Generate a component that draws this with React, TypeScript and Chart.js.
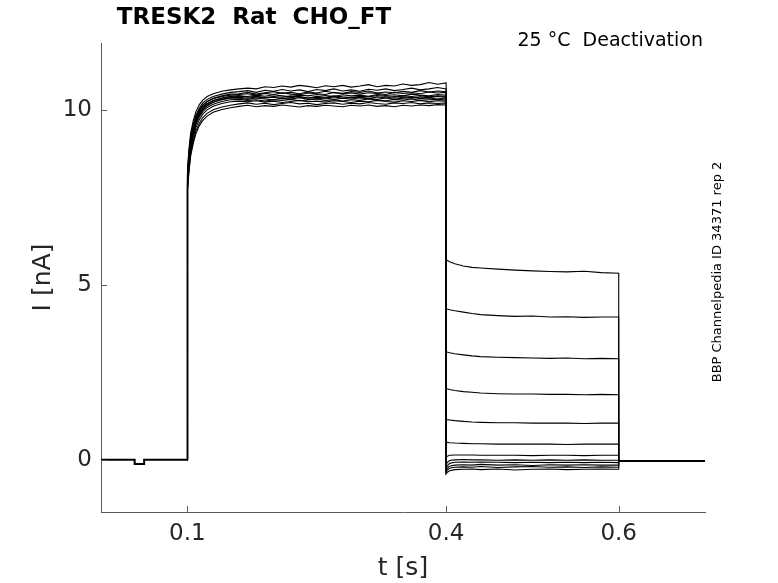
import { useEffect, useRef } from "react"
import { Chart, registerables } from "chart.js"

Chart.register(...registerables)

// time bases (s)
const holdPreTime = [0, 0.039, 0.039, 0.05, 0.05, 0.1]
const holdPreCurrent = [0, 0, -0.12, -0.12, 0, 0]
const holdPostTime = [0.6, 0.65, 0.7]
const holdPostCurrent = [-0.03, -0.03, -0.03]

const riseTime = [0.1, 0.1, 0.1005, 0.102, 0.104, 0.107, 0.11, 0.114, 0.118, 0.123, 0.13, 0.14, 0.15]
const plateauTime = [
  0.16, 0.17, 0.18, 0.19, 0.2, 0.21, 0.22, 0.23, 0.24, 0.25, 0.26, 0.27, 0.28,
  0.29, 0.3, 0.31, 0.32, 0.33, 0.34, 0.35, 0.36, 0.37, 0.38, 0.39, 0.4,
]
const tailTime = [0.4, 0.401, 0.404, 0.41, 0.42, 0.43, 0.44, 0.46, 0.48, 0.5, 0.52, 0.54, 0.56, 0.58, 0.6, 0.6]

// currents (nA), one row per sweep
const riseCurrents = [
  [0, 8.0, 8.3, 8.9, 9.35, 9.7, 9.95, 10.15, 10.28, 10.38, 10.46, 10.53, 10.57],
  [0, 7.9, 8.2, 8.8, 9.25, 9.6, 9.85, 10.05, 10.2, 10.3, 10.38, 10.45, 10.5],
  [0, 7.8, 8.1, 8.7, 9.15, 9.5, 9.78, 10.0, 10.12, 10.24, 10.33, 10.4, 10.45],
  [0, 7.85, 8.15, 8.75, 9.2, 9.55, 9.8, 10.0, 10.14, 10.24, 10.32, 10.38, 10.42],
  [0, 7.7, 8.0, 8.6, 9.05, 9.45, 9.72, 9.92, 10.06, 10.17, 10.26, 10.33, 10.38],
  [0, 7.75, 8.05, 8.65, 9.1, 9.48, 9.75, 9.95, 10.08, 10.18, 10.27, 10.34, 10.39],
  [0, 7.6, 7.9, 8.5, 8.95, 9.35, 9.62, 9.85, 10.0, 10.12, 10.22, 10.3, 10.35],
  [0, 7.65, 7.95, 8.55, 9.0, 9.4, 9.66, 9.88, 10.02, 10.13, 10.22, 10.29, 10.33],
  [0, 7.55, 7.85, 8.45, 8.9, 9.3, 9.58, 9.8, 9.95, 10.07, 10.16, 10.24, 10.29],
  [0, 7.5, 7.8, 8.4, 8.85, 9.22, 9.5, 9.72, 9.88, 10.0, 10.1, 10.18, 10.23],
  [0, 7.45, 7.75, 8.3, 8.75, 9.12, 9.4, 9.62, 9.78, 9.9, 10.0, 10.08, 10.13],
  [0, 7.4, 7.7, 8.25, 8.7, 9.05, 9.32, 9.55, 9.7, 9.82, 9.93, 10.01, 10.06],
]

const plateauCurrents = [
  [10.6, 10.62, 10.6, 10.66, 10.64, 10.68, 10.65, 10.7, 10.67, 10.63, 10.69, 10.66, 10.7, 10.65, 10.68, 10.72, 10.66, 10.7, 10.68, 10.74, 10.7, 10.72, 10.78, 10.73, 10.77],
  [10.52, 10.55, 10.5, 10.56, 10.53, 10.58, 10.54, 10.57, 10.52, 10.58, 10.55, 10.6, 10.54, 10.57, 10.53, 10.59, 10.56, 10.6, 10.55, 10.58, 10.62, 10.57, 10.6, 10.64, 10.6],
  [10.46, 10.5, 10.45, 10.49, 10.52, 10.47, 10.5, 10.46, 10.51, 10.48, 10.53, 10.49, 10.47, 10.52, 10.5, 10.54, 10.48, 10.51, 10.49, 10.53, 10.5, 10.55, 10.51, 10.54, 10.52],
  [10.44, 10.46, 10.42, 10.47, 10.44, 10.49, 10.45, 10.43, 10.48, 10.46, 10.44, 10.5, 10.46, 10.48, 10.45, 10.49, 10.47, 10.44, 10.5, 10.47, 10.49, 10.46, 10.51, 10.48, 10.5],
  [10.4, 10.38, 10.42, 10.39, 10.43, 10.4, 10.37, 10.42, 10.4, 10.44, 10.41, 10.38, 10.43, 10.4, 10.42, 10.39, 10.44, 10.41, 10.43, 10.4, 10.45, 10.42, 10.4, 10.44, 10.42],
  [10.4, 10.36, 10.39, 10.35, 10.38, 10.36, 10.4, 10.37, 10.34, 10.39, 10.36, 10.4, 10.37, 10.35, 10.39, 10.37, 10.41, 10.38, 10.36, 10.4, 10.38, 10.41, 10.37, 10.4, 10.38],
  [10.36, 10.33, 10.37, 10.34, 10.36, 10.32, 10.35, 10.38, 10.33, 10.36, 10.34, 10.37, 10.33, 10.36, 10.35, 10.32, 10.37, 10.34, 10.38, 10.35, 10.33, 10.37, 10.35, 10.38, 10.36],
  [10.33, 10.3, 10.34, 10.31, 10.29, 10.33, 10.31, 10.35, 10.3, 10.32, 10.34, 10.3, 10.33, 10.31, 10.35, 10.32, 10.3, 10.34, 10.31, 10.33, 10.36, 10.32, 10.34, 10.31, 10.34],
  [10.3, 10.27, 10.29, 10.25, 10.29, 10.27, 10.3, 10.26, 10.28, 10.31, 10.27, 10.29, 10.25, 10.29, 10.27, 10.31, 10.28, 10.26, 10.3, 10.28, 10.31, 10.27, 10.29, 10.3, 10.28],
  [10.25, 10.23, 10.26, 10.22, 10.25, 10.21, 10.24, 10.27, 10.23, 10.25, 10.22, 10.26, 10.24, 10.21, 10.25, 10.23, 10.27, 10.24, 10.22, 10.26, 10.24, 10.27, 10.23, 10.26, 10.25],
  [10.17, 10.2, 10.16, 10.19, 10.15, 10.18, 10.21, 10.17, 10.19, 10.15, 10.18, 10.2, 10.16, 10.19, 10.17, 10.21, 10.18, 10.16, 10.2, 10.18, 10.21, 10.17, 10.2, 10.18, 10.2],
  [10.1, 10.13, 10.09, 10.12, 10.1, 10.14, 10.11, 10.08, 10.12, 10.1, 10.13, 10.11, 10.09, 10.13, 10.11, 10.14, 10.1, 10.12, 10.09, 10.13, 10.11, 10.14, 10.12, 10.15, 10.14],
]

const tailCurrents = [
  [5.72, 5.7, 5.66, 5.6, 5.54, 5.5, 5.48, 5.45, 5.42, 5.4, 5.38, 5.37, 5.39, 5.35, 5.33, -0.03],
  [4.33, 4.31, 4.29, 4.26, 4.22, 4.18, 4.15, 4.12, 4.1, 4.11, 4.08, 4.09, 4.07, 4.08, 4.08, -0.03],
  [3.1, 3.08, 3.06, 3.03, 3.0, 2.97, 2.95, 2.93, 2.92, 2.91, 2.9, 2.91, 2.89, 2.9, 2.89, -0.03],
  [2.05, 2.03, 2.01, 1.98, 1.95, 1.93, 1.91, 1.89, 1.88, 1.88, 1.87, 1.87, 1.86, 1.87, 1.86, -0.03],
  [1.16, 1.15, 1.14, 1.12, 1.1, 1.08, 1.07, 1.06, 1.06, 1.05, 1.05, 1.05, 1.04, 1.05, 1.05, -0.03],
  [0.5, 0.5, 0.49, 0.48, 0.47, 0.46, 0.46, 0.45, 0.45, 0.45, 0.45, 0.44, 0.45, 0.45, 0.45, -0.03],
  [0.05, 0.1, 0.13, 0.14, 0.14, 0.14, 0.13, 0.13, 0.13, 0.12, 0.13, 0.13, 0.12, 0.13, 0.13, -0.03],
  [-0.2, -0.08, -0.02, 0.0, 0.01, 0.0, 0.0, -0.01, 0.0, -0.01, 0.0, -0.01, 0.0, -0.01, -0.01, -0.03],
  [-0.28, -0.18, -0.1, -0.07, -0.06, -0.07, -0.06, -0.07, -0.08, -0.07, -0.08, -0.07, -0.08, -0.07, -0.08, -0.03],
  [-0.33, -0.25, -0.18, -0.15, -0.14, -0.15, -0.13, -0.15, -0.14, -0.16, -0.14, -0.15, -0.14, -0.15, -0.15, -0.03],
  [-0.36, -0.3, -0.24, -0.21, -0.2, -0.21, -0.19, -0.22, -0.2, -0.19, -0.21, -0.2, -0.22, -0.2, -0.21, -0.03],
  [-0.4, -0.36, -0.31, -0.28, -0.27, -0.26, -0.28, -0.26, -0.29, -0.27, -0.26, -0.28, -0.27, -0.26, -0.27, -0.03],
]

const xTicks = [0.1, 0.4, 0.6]
const yTicks = [0, 5, 10]

const FONT = "DejaVu Sans"
const AXIS_COLOR = "#5a5a5a"
const TEXT_COLOR = "#262626"

const toPoints = (xs: number[], ys: number[]) => xs.map((x, i) => ({ x, y: ys[i] }))

const decorPlugin = {
  id: "decor",
  afterDraw(chart: any) {
    const { ctx, chartArea, scales } = chart
    ctx.save()

    // inward tick marks
    ctx.strokeStyle = AXIS_COLOR
    ctx.lineWidth = 1
    xTicks.forEach((v) => {
      const px = Math.round(scales.x.getPixelForValue(v)) + 0.5
      ctx.beginPath()
      ctx.moveTo(px, chartArea.bottom)
      ctx.lineTo(px, chartArea.bottom - 6)
      ctx.stroke()
    })
    yTicks.forEach((v) => {
      const py = Math.round(scales.y.getPixelForValue(v)) + 0.5
      ctx.beginPath()
      ctx.moveTo(chartArea.left, py)
      ctx.lineTo(chartArea.left + 6, py)
      ctx.stroke()
    })

    // titles
    ctx.fillStyle = "#000"
    ctx.textBaseline = "middle"
    ctx.textAlign = "center"
    ctx.font = `bold 23px "${FONT}"`
    ctx.fillText("TRESK2  Rat  CHO_FT", 254, 18)

    ctx.textAlign = "right"
    ctx.font = `19px "${FONT}"`
    ctx.fillText("25 °C  Deactivation", 703, 41)

    ctx.fillStyle = TEXT_COLOR
    ctx.textAlign = "center"
    ctx.font = `25px "${FONT}"`
    ctx.fillText("t [s]", (chartArea.left + chartArea.right) / 2, 568)

    ctx.save()
    ctx.translate(43, (chartArea.top + chartArea.bottom) / 2)
    ctx.rotate(-Math.PI / 2)
    ctx.fillText("I [nA]", 0, 0)
    ctx.restore()

    ctx.save()
    ctx.fillStyle = "#000"
    ctx.translate(718, 272)
    ctx.rotate(-Math.PI / 2)
    ctx.font = `13px "${FONT}"`
    ctx.fillText("BBP Channelpedia ID 34371 rep 2", 0, 0)
    ctx.restore()

    ctx.restore()
  },
}

export default function App() {
  const chartRef = useRef<HTMLCanvasElement>(null)
  const chartInstance = useRef<Chart | null>(null)

  useEffect(() => {
    if (!chartRef.current) return
    if (chartInstance.current) chartInstance.current.destroy()

    const ctx = chartRef.current.getContext("2d")
    if (!ctx) return

    const sweepSets = riseCurrents.map((rise, i) => ({
      label: `sweep ${i + 1}`,
      data: [
        ...toPoints(riseTime, rise),
        ...toPoints(plateauTime, plateauCurrents[i]),
        ...toPoints(tailTime, tailCurrents[i]),
      ],
      borderColor: "#000",
      borderWidth: 1.1,
      pointRadius: 0,
      tension: 0,
    }))

    const holdSets = [
      { label: "hold pre", data: toPoints(holdPreTime, holdPreCurrent) },
      { label: "hold post", data: toPoints(holdPostTime, holdPostCurrent) },
    ].map((d) => ({ ...d, borderColor: "#000", borderWidth: 2, pointRadius: 0, tension: 0 }))

    chartInstance.current = new Chart(ctx, {
      type: "line",
      data: { datasets: [...holdSets, ...sweepSets] as any },
      options: {
        animation: false,
        responsive: true,
        maintainAspectRatio: false,
        parsing: false,
        layout: { padding: { left: 0, right: 73, top: 43, bottom: 0 } },
        plugins: { legend: { display: false }, tooltip: { enabled: false } },
        scales: {
          x: {
            type: "linear",
            min: 0,
            max: 0.7,
            afterBuildTicks: (axis: any) => {
              axis.ticks = xTicks.map((value) => ({ value }))
            },
            afterFit: (scale: any) => {
              scale.height = 71
            },
            grid: { display: false, drawTicks: false },
            border: { display: true, color: AXIS_COLOR, width: 1 },
            ticks: {
              color: TEXT_COLOR,
              font: { family: FONT, size: 23 },
              padding: 8,
              maxRotation: 0,
              callback: (v: any) => String(v),
            },
          },
          y: {
            type: "linear",
            min: -1.49,
            max: 11.91,
            afterBuildTicks: (axis: any) => {
              axis.ticks = yTicks.map((value) => ({ value }))
            },
            afterFit: (scale: any) => {
              scale.width = 101
            },
            grid: { display: false, drawTicks: false },
            border: { display: true, color: AXIS_COLOR, width: 1 },
            ticks: {
              color: TEXT_COLOR,
              font: { family: FONT, size: 23 },
              padding: 9,
              callback: (v: any) => String(v),
            },
          },
        },
      },
      plugins: [decorPlugin],
    })

    return () => {
      if (chartInstance.current) {
        chartInstance.current.destroy()
        chartInstance.current = null
      }
    }
  }, [])

  return (
    <div style={{ position: "fixed", left: 0, top: 0, width: 778, height: 583, background: "#fff" }}>
      <canvas ref={chartRef} />
    </div>
  )
}
